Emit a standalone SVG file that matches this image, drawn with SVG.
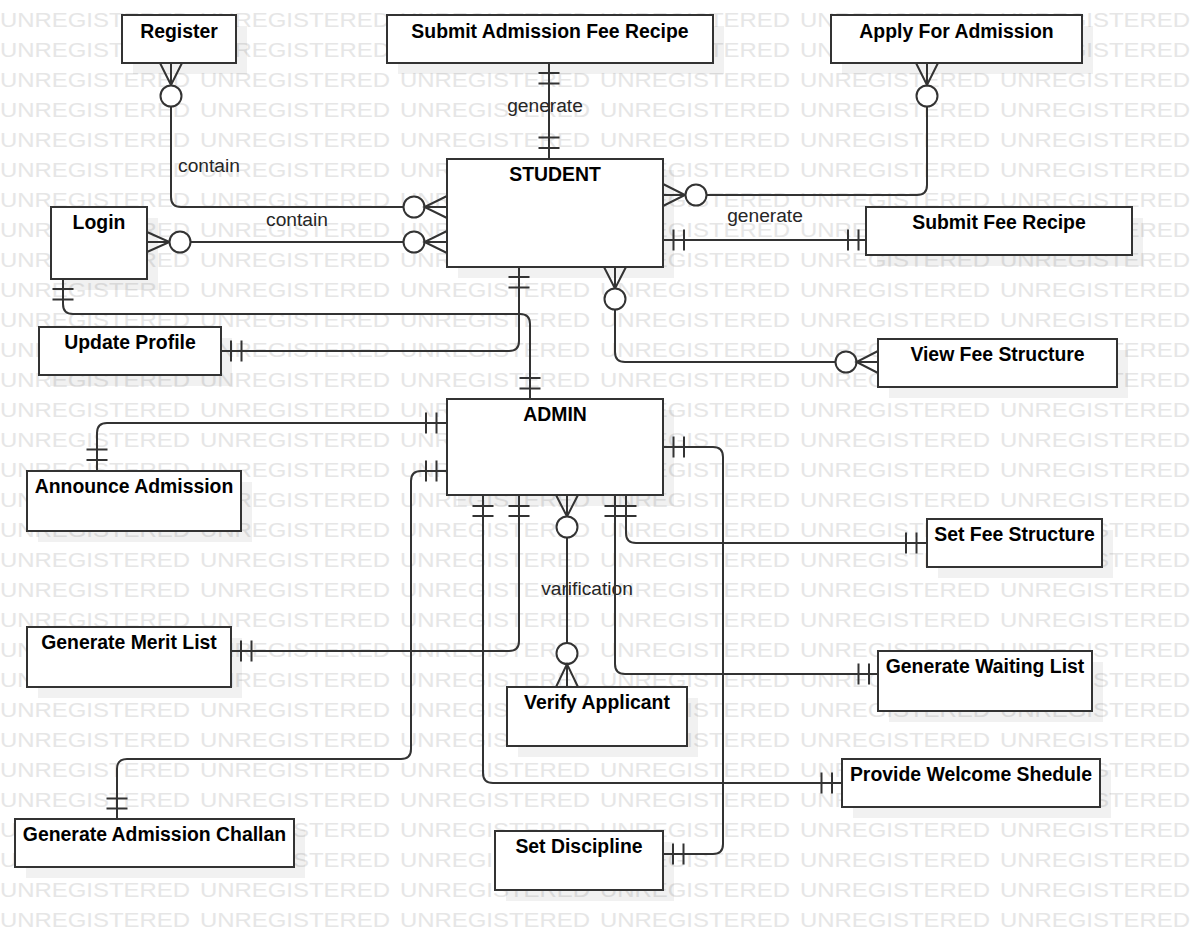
<svg xmlns="http://www.w3.org/2000/svg" xmlns:xlink="http://www.w3.org/1999/xlink" width="1191" height="951" viewBox="0 0 1191 951">
<style>
.wm{font-family:"Liberation Sans",Arial,sans-serif;font-size:19.5px;fill:#e6e6e6}
.box{fill:#fff;stroke:#333;stroke-width:2}
.sh{fill:#000;fill-opacity:0.055}
.t{font-family:"Liberation Sans",Arial,sans-serif;font-size:19.4px;font-weight:bold;fill:#000;text-anchor:middle}
.lbl{font-family:"Liberation Sans",Arial,sans-serif;font-size:19.2px;fill:#262626;text-anchor:middle}
.ln{fill:none;stroke:#333;stroke-width:2}
.c{fill:#fff;stroke:#333;stroke-width:2}
</style>
<defs>
<g id="wmrow">
<text class="wm" x="0" textLength="190" lengthAdjust="spacingAndGlyphs">UNREGISTERED</text>
<text class="wm" x="200" textLength="190" lengthAdjust="spacingAndGlyphs">UNREGISTERED</text>
<text class="wm" x="400" textLength="190" lengthAdjust="spacingAndGlyphs">UNREGISTERED</text>
<text class="wm" x="600" textLength="190" lengthAdjust="spacingAndGlyphs">UNREGISTERED</text>
<text class="wm" x="800" textLength="190" lengthAdjust="spacingAndGlyphs">UNREGISTERED</text>
<text class="wm" x="1000" textLength="190" lengthAdjust="spacingAndGlyphs">UNREGISTERED</text>
</g>
</defs>
<rect width="1191" height="951" fill="#fff"/>
<g id="watermark">
<use xlink:href="#wmrow" y="27"/><use xlink:href="#wmrow" y="57"/><use xlink:href="#wmrow" y="87"/><use xlink:href="#wmrow" y="117"/><use xlink:href="#wmrow" y="147"/><use xlink:href="#wmrow" y="177"/><use xlink:href="#wmrow" y="207"/><use xlink:href="#wmrow" y="237"/><use xlink:href="#wmrow" y="267"/><use xlink:href="#wmrow" y="297"/><use xlink:href="#wmrow" y="327"/><use xlink:href="#wmrow" y="357"/><use xlink:href="#wmrow" y="387"/><use xlink:href="#wmrow" y="417"/><use xlink:href="#wmrow" y="447"/><use xlink:href="#wmrow" y="477"/><use xlink:href="#wmrow" y="507"/><use xlink:href="#wmrow" y="537"/><use xlink:href="#wmrow" y="567"/><use xlink:href="#wmrow" y="597"/><use xlink:href="#wmrow" y="627"/><use xlink:href="#wmrow" y="657"/><use xlink:href="#wmrow" y="687"/><use xlink:href="#wmrow" y="717"/><use xlink:href="#wmrow" y="747"/><use xlink:href="#wmrow" y="777"/><use xlink:href="#wmrow" y="807"/><use xlink:href="#wmrow" y="837"/><use xlink:href="#wmrow" y="867"/><use xlink:href="#wmrow" y="897"/><use xlink:href="#wmrow" y="927"/>
</g>
<g id="shadows">
<rect class="sh" x="133" y="26" width="114" height="48"/>
<rect class="sh" x="398" y="26" width="326" height="48"/>
<rect class="sh" x="842" y="26" width="251" height="48"/>
<rect class="sh" x="458" y="170" width="216" height="108"/>
<rect class="sh" x="62" y="218" width="96" height="72"/>
<rect class="sh" x="877" y="218" width="266" height="48"/>
<rect class="sh" x="50" y="338" width="182" height="48"/>
<rect class="sh" x="889" y="350" width="239" height="48"/>
<rect class="sh" x="458" y="410" width="216" height="96"/>
<rect class="sh" x="38" y="482" width="214" height="60"/>
<rect class="sh" x="938" y="530" width="175" height="48"/>
<rect class="sh" x="38" y="638" width="204" height="60"/>
<rect class="sh" x="889" y="662" width="214" height="60"/>
<rect class="sh" x="518" y="698" width="180" height="59"/>
<rect class="sh" x="853" y="770" width="258" height="48"/>
<rect class="sh" x="26" y="830" width="279" height="48"/>
<rect class="sh" x="506" y="842" width="168" height="59"/>
</g>
<g id="connectors">
<!-- Register - STUDENT -->
<path class="ln" d="M160,63 L171,85 L182,63 M171,63 V85"/>
<path class="ln" d="M171,106.5 V197 Q171,207 181,207 H403.5"/>
<circle class="c" cx="171" cy="96" r="10.5"/>
<circle class="c" cx="414" cy="207" r="10.5"/>
<path class="ln" d="M447,196 L424.5,207 L447,218 M424.5,207 H447"/>
<text class="lbl" x="209" y="172">contain</text>
<!-- Login - STUDENT -->
<path class="ln" d="M147,232 L169.5,242 L147,252 M147,242 H169.5"/>
<path class="ln" d="M190.5,242 H403.5"/>
<circle class="c" cx="180" cy="242" r="10.5"/>
<circle class="c" cx="414" cy="242" r="10.5"/>
<path class="ln" d="M447,231 L424.5,242 L447,253 M424.5,242 H447"/>
<text class="lbl" x="297" y="226">contain</text>
<!-- Submit Admission Fee Recipe - STUDENT -->
<path class="ln" d="M549,63 V159 M538.5,73 H559.5 M538.5,83.5 H559.5 M538.5,137.5 H559.5 M538.5,148 H559.5"/>
<text class="lbl" x="545" y="112">generate</text>
<!-- STUDENT - Apply For Admission -->
<path class="ln" d="M663,184 L685,195 L663,206 M663,195 H685"/>
<path class="ln" d="M706.5,195 H917 Q927,195 927,185 V106.5"/>
<circle class="c" cx="696" cy="195" r="10.5"/>
<circle class="c" cx="927" cy="96" r="10.5"/>
<path class="ln" d="M916,63 L927,85 L938,63 M927,63 V85"/>
<!-- STUDENT - Submit Fee Recipe -->
<path class="ln" d="M663,240 H866 M673.5,229.5 V250.5 M684,229.5 V250.5 M848,229.5 V250.5 M858.5,229.5 V250.5"/>
<text class="lbl" x="765" y="222">generate</text>
<!-- STUDENT - View Fee Structure -->
<path class="ln" d="M604,267 L615,288.5 L626,267 M615,267 V288.5"/>
<path class="ln" d="M615,309.5 V352 Q615,362 625,362 H835.5"/>
<circle class="c" cx="615" cy="299" r="10.5"/>
<circle class="c" cx="846" cy="362" r="10.5"/>
<path class="ln" d="M878,351 L856.5,362 L878,373 M856.5,362 H878"/>
<!-- Update Profile - STUDENT -->
<path class="ln" d="M221,351 H509 Q519,351 519,341 V267 M231,340.5 V361.5 M241.5,340.5 V361.5 M508.5,277 H529.5 M508.5,287.5 H529.5"/>
<!-- Login - ADMIN -->
<path class="ln" d="M63,279 V304 Q63,314 73,314 H520 Q530,314 530,324 V399 M52.5,289 H73.5 M52.5,299.5 H73.5 M519.5,378 H540.5 M519.5,388.5 H540.5"/>
<!-- Announce Admission - ADMIN -->
<path class="ln" d="M97,471 V433 Q97,423 107,423 H447 M86.5,449.5 H107.5 M86.5,460 H107.5 M426,412.5 V433.5 M436.5,412.5 V433.5"/>
<!-- Generate Admission Challan - ADMIN -->
<path class="ln" d="M447,471 H421 Q411,471 411,481 V749 Q411,759 401,759 H127 Q117,759 117,769 V819 M426,460.5 V481.5 M436.5,460.5 V481.5 M106.5,798.5 H127.5 M106.5,808.5 H127.5"/>
<!-- Generate Merit List - ADMIN -->
<path class="ln" d="M231,651 H509 Q519,651 519,641 V495 M241,640.5 V661.5 M251.5,640.5 V661.5 M508.5,506 H529.5 M508.5,516 H529.5"/>
<!-- Provide Welcome Shedule - ADMIN -->
<path class="ln" d="M483,495 V773 Q483,783 493,783 H842 M472.5,506 H493.5 M472.5,516 H493.5 M821.5,772.5 V793.5 M832,772.5 V793.5"/>
<!-- ADMIN - Verify Applicant -->
<path class="ln" d="M556,495 L567,516.5 L578,495 M567,495 V516.5"/>
<path class="ln" d="M567,537.5 V643"/>
<circle class="c" cx="567" cy="527" r="10.5"/>
<circle class="c" cx="567" cy="653.5" r="10.5"/>
<path class="ln" d="M556,687 L567,664 L578,687 M567,664 V687"/>
<text class="lbl" x="587" y="595">varification</text>
<!-- Set Fee Structure - ADMIN -->
<path class="ln" d="M626,495 V533 Q626,543 636,543 H927 M615.5,506 H636.5 M615.5,516 H636.5 M906,532.5 V553.5 M916.5,532.5 V553.5"/>
<!-- Generate Waiting List - ADMIN -->
<path class="ln" d="M615,495 V664 Q615,674 625,674 H878 M604.5,506 H625.5 M604.5,516 H625.5 M858.5,663.5 V684.5 M869,663.5 V684.5"/>
<!-- Set Discipline - ADMIN -->
<path class="ln" d="M663,447 H713 Q723,447 723,457 V844 Q723,854 713,854 H663 M673.5,436.5 V457.5 M684,436.5 V457.5 M673,843.5 V864.5 M683.5,843.5 V864.5"/>
</g>
<g id="register"><rect class="box" x="122" y="15" width="114" height="48"/><text class="t" x="179" y="37.5">Register</text></g>
<g id="submit-admission-fee"><rect class="box" x="387" y="15" width="326" height="48"/><text class="t" x="550" y="37.5">Submit Admission Fee Recipe</text></g>
<g id="apply-admission"><rect class="box" x="831" y="15" width="251" height="48"/><text class="t" x="956.5" y="37.5">Apply For Admission</text></g>
<g id="student"><rect class="box" x="447" y="159" width="216" height="108"/><text class="t" x="555" y="181">STUDENT</text></g>
<g id="login"><rect class="box" x="51" y="207" width="96" height="72"/><text class="t" x="99" y="229">Login</text></g>
<g id="submit-fee"><rect class="box" x="866" y="207" width="266" height="48"/><text class="t" x="999" y="229">Submit Fee Recipe</text></g>
<g id="update-profile"><rect class="box" x="39" y="327" width="182" height="48"/><text class="t" x="130" y="349">Update Profile</text></g>
<g id="view-fee"><rect class="box" x="878" y="339" width="239" height="48"/><text class="t" x="997.5" y="361">View Fee Structure</text></g>
<g id="admin"><rect class="box" x="447" y="399" width="216" height="96"/><text class="t" x="555" y="421">ADMIN</text></g>
<g id="announce"><rect class="box" x="27" y="471" width="214" height="60"/><text class="t" x="134" y="493">Announce Admission</text></g>
<g id="set-fee"><rect class="box" x="927" y="519" width="175" height="48"/><text class="t" x="1014.5" y="541">Set Fee Structure</text></g>
<g id="merit"><rect class="box" x="27" y="627" width="204" height="60"/><text class="t" x="129" y="649">Generate Merit List</text></g>
<g id="waiting"><rect class="box" x="878" y="651" width="214" height="60"/><text class="t" x="985" y="673">Generate Waiting List</text></g>
<g id="verify"><rect class="box" x="507" y="687" width="180" height="59"/><text class="t" x="597" y="709">Verify Applicant</text></g>
<g id="welcome"><rect class="box" x="842" y="759" width="258" height="48"/><text class="t" x="971" y="781">Provide Welcome Shedule</text></g>
<g id="challan"><rect class="box" x="15" y="819" width="279" height="48"/><text class="t" x="154.5" y="841">Generate Admission Challan</text></g>
<g id="discipline"><rect class="box" x="495" y="831" width="168" height="59"/><text class="t" x="579" y="853">Set Discipline</text></g>
</svg>
